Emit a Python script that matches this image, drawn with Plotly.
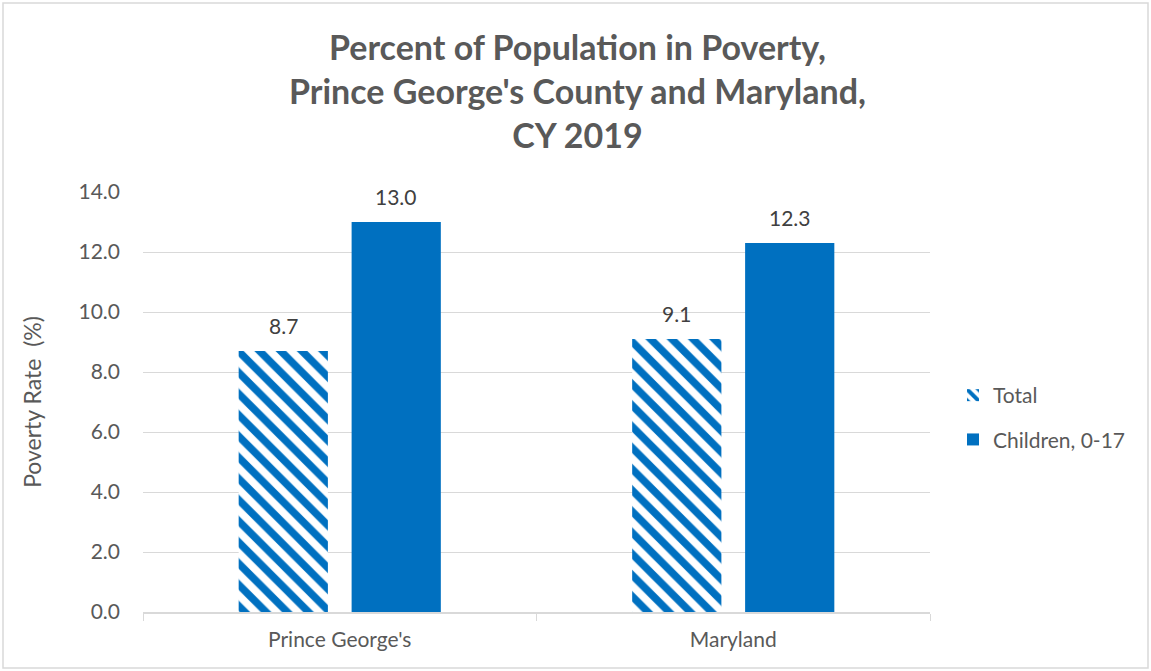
import plotly.graph_objects as go

categories = ["Prince George's", "Maryland"]
total = [8.7, 9.1]
children = [13.0, 12.3]
series_names = ["Total", "Children, 0-17"]
title_lines = ["Percent of Population in Poverty,", "Prince George's County and Maryland,", "CY 2019"]
y_ticks = [0, 2, 4, 6, 8, 10, 12, 14]

BLUE = "#0070C0"
FONT = "Lato"
TXT = "#595959"

fig = go.Figure()
fig.add_trace(go.Bar(
    x=categories, y=total, name=series_names[0], legendgroup="a",
    marker=dict(color="white", line=dict(width=0),
                pattern=dict(shape="\\", fgcolor=BLUE, bgcolor="white", fgopacity=1,
                             size=15, solidity=0.5)),
))
fig.add_trace(go.Bar(
    x=categories, y=children, name=series_names[1], legendgroup="b",
    marker=dict(color=BLUE, line=dict(width=0)),
))

W, H = 1151, 671
L, R, T, B = 143, 930, 192, 612
pw, ph = R - L, B - T
BAR_OFFSET = 56.5  # px from category centre to bar centre

# data labels above bars
for series, sign in ((total, -1), (children, 1)):
    for cat, val in zip(categories, series):
        fig.add_annotation(x=cat, y=val, xref="x", yref="y", text=f"{val:.1f}",
                           showarrow=False, xshift=sign * BAR_OFFSET, yshift=26,
                           yanchor="middle", font=dict(size=21, color="#404040", family=FONT))

fig.add_annotation(text="<b>" + "<br>".join(title_lines) + "</b>", xref="paper", yref="paper",
                   x=(577 - L) / pw, y=(B - 91) / ph, xanchor="center", yanchor="middle",
                   showarrow=False, font=dict(size=34, color=TXT, family=FONT))

fig.update_layout(
    width=W, height=H,
    margin=dict(l=L, r=W - R, t=T, b=H - B),
    paper_bgcolor="white", plot_bgcolor="white",
    barmode="group", bargap=0.426, bargroupgap=0.21,
    font=dict(family=FONT, color=TXT, size=21),
    legend=dict(x=(953 - L) / pw, y=(B - 375) / ph, xanchor="left", yanchor="top",
                font=dict(size=21, color=TXT, family=FONT),
                tracegroupgap=14, bgcolor="rgba(0,0,0,0)", itemwidth=30),
    showlegend=True,
)
fig.update_xaxes(
    showline=True, linecolor="#D9D9D9", linewidth=1.5,
    ticks="outside", tickson="boundaries", ticklen=7, tickcolor="#D9D9D9",
    tickfont=dict(size=21, color=TXT), ticklabelstandoff=8,
)
fig.update_yaxes(
    range=[0, 14], tickvals=y_ticks, tickformat=".1f",
    showgrid=True, gridcolor="#D9D9D9", gridwidth=1.2, zeroline=False,
    title=dict(text="Poverty Rate  (%)", font=dict(size=23, color=TXT), standoff=30),
    tickfont=dict(size=21, color=TXT), ticklabelstandoff=22,
)
fig.add_shape(type="rect", xref="paper", yref="paper",
              x0=(3 - L) / pw, x1=(1148 - L) / pw,
              y0=(B - 668) / ph, y1=(B - 3) / ph,
              line=dict(color="#D9D9D9", width=1.5), fillcolor="rgba(0,0,0,0)")

fig.write_html("out.html")
